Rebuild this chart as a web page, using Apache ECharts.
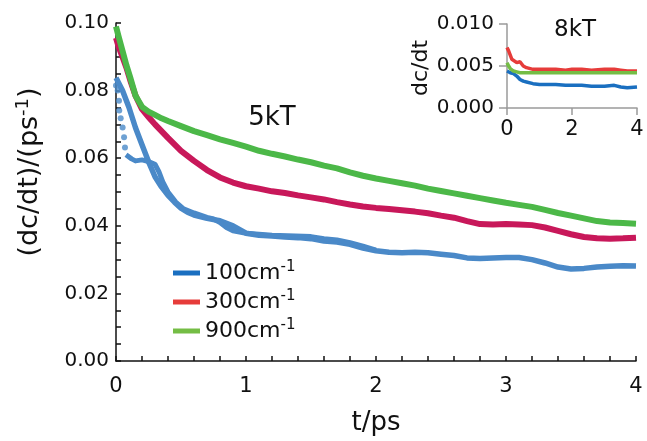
<!DOCTYPE html>
<html>
<head>
<meta charset="utf-8">
<script src="https://cdn.jsdelivr.net/npm/echarts@6/dist/echarts.min.js"></script>
<style>
html,body{margin:0;padding:0;background:#fff;}
#chart{width:647px;height:441px;}
</style>
</head>
<body>
<div id="chart"></div>
<script>
// ---- Main panel (5kT) ----
var tMain = [0,0.02,0.05,0.08,0.11,0.15,0.2,0.25,0.3,0.35,0.4,0.5,0.6,0.7,0.8,0.9,1.0,1.1,1.2,1.3,1.4,1.5,1.6,1.7,1.8,1.9,2.0,2.1,2.2,2.3,2.4,2.5,2.6,2.7,2.8,2.9,3.0,3.1,3.2,3.3,3.4,3.5,3.6,3.7,3.8,3.9,4.0];
var green5 = [0.0990,0.0960,0.0918,0.0875,0.0838,0.0785,0.0752,0.0738,0.0728,0.0718,0.0710,0.0695,0.0680,0.0668,0.0656,0.0645,0.0634,0.0622,0.0613,0.0605,0.0596,0.0588,0.0578,0.0570,0.0558,0.0548,0.0540,0.0533,0.0526,0.0519,0.0510,0.0503,0.0496,0.0489,0.0482,0.0475,0.0468,0.0462,0.0456,0.0447,0.0438,0.0430,0.0422,0.0414,0.0410,0.0408,0.0406];
var red5 = [0.0956,0.0930,0.0900,0.0868,0.0830,0.0785,0.0745,0.0722,0.0700,0.0680,0.0660,0.0622,0.0592,0.0565,0.0543,0.0528,0.0517,0.0510,0.0502,0.0497,0.0490,0.0484,0.0478,0.0470,0.0463,0.0457,0.0453,0.0450,0.0446,0.0442,0.0437,0.0430,0.0424,0.0414,0.0405,0.0404,0.0405,0.0404,0.0402,0.0395,0.0385,0.0375,0.0367,0.0363,0.0362,0.0363,0.0365];
var tBlueA = [0,0.05,0.1,0.15,0.2,0.25,0.3,0.35,0.4,0.45,0.5,0.55,0.6,0.7,0.8,0.9,1.0,1.1,1.2,1.3,1.4,1.5,1.6,1.7,1.8,1.9,2.0,2.1,2.2,2.3,2.4,2.5,2.6,2.7,2.8,2.9,3.0,3.1,3.2,3.3,3.4,3.5,3.6,3.7,3.8,3.9,4.0];
var blue5A = [0.0838,0.0800,0.0750,0.0690,0.0640,0.0590,0.0545,0.0515,0.0490,0.0470,0.0452,0.0440,0.0432,0.0422,0.0415,0.0400,0.0378,0.0372,0.0370,0.0367,0.0365,0.0362,0.0355,0.0352,0.0345,0.0334,0.0326,0.0322,0.0320,0.0322,0.0320,0.0316,0.0312,0.0305,0.0303,0.0305,0.0306,0.0306,0.0300,0.0290,0.0278,0.0272,0.0274,0.0278,0.0280,0.0282,0.0281];
var tBlueB = [0.077,0.12,0.15,0.2,0.25,0.3,0.33,0.36,0.4,0.46,0.52,0.6,0.7,0.75,0.8,0.85,0.9,1.0,1.2,1.5,1.6,1.7,1.8,1.9,2.0];
var blue5B = [0.0610,0.0598,0.0592,0.0595,0.0590,0.0582,0.0560,0.0530,0.0500,0.0470,0.0450,0.0438,0.0425,0.0420,0.0410,0.0395,0.0385,0.0378,0.0372,0.0368,0.0362,0.0358,0.0350,0.0340,0.0328];
var tBlueDots = [0.0,0.013,0.023,0.025,0.036,0.051,0.062,0.069];
var blue5Dots = [0.0815,0.0800,0.0770,0.0741,0.0718,0.0691,0.0662,0.0632];

// ---- Inset panel (8kT) ----
var tInset = [0,0.05,0.1,0.15,0.2,0.3,0.4,0.5,0.6,0.8,1.0,1.2,1.5,1.8,2.0,2.3,2.6,3.0,3.3,3.5,3.7,4.0];
var red8 = [0.0072,0.0068,0.0063,0.0058,0.0056,0.0054,0.0055,0.0050,0.0048,0.0046,0.0046,0.0046,0.0046,0.0045,0.0046,0.0046,0.0045,0.0046,0.0046,0.0045,0.0044,0.0044];
var green8 = [0.0054,0.0050,0.0047,0.0045,0.0044,0.0043,0.0042,0.0042,0.0042,0.0042,0.0042,0.0042,0.0042,0.0042,0.0042,0.0042,0.0042,0.0042,0.0042,0.0042,0.0042,0.0042];
var blue8 = [0.0044,0.0043,0.0042,0.0042,0.0041,0.0038,0.0034,0.0032,0.0031,0.0029,0.0028,0.0028,0.0028,0.0027,0.0027,0.0027,0.0026,0.0026,0.0027,0.0025,0.0024,0.0025];

var legendNames = ['100cm-1','300cm-1','900cm-1'];

function zip(t, v){ return t.map(function(x,i){ return [x, v[i]]; }); }

var FONT = 'DejaVu Sans';
var chart = echarts.init(document.getElementById('chart'), null, {renderer:'canvas'});

var option = {
  backgroundColor: '#ffffff',
  animation: false,
  textStyle: {fontFamily: FONT, color: '#111'},
  grid: [
    {left:116, right:11, top:23, bottom:80},
    {left:507, width:130, top:24, height:84}
  ],
  xAxis: [
    {gridIndex:0, type:'value', min:0, max:4, interval:1,
     name:'t/ps', nameLocation:'middle', nameGap:49,
     nameTextStyle:{fontSize:26, color:'#111', fontFamily:FONT},
     axisLine:{lineStyle:{color:'#111', width:1.5}},
     axisTick:{inside:true, length:5, lineStyle:{color:'#111', width:1.5}},
     minorTick:{show:true, splitNumber:5, length:5, lineStyle:{color:'#111', width:1.5}},
     splitLine:{show:false},
     axisLabel:{fontSize:21, color:'#111', margin:15, fontFamily:FONT}},
    {gridIndex:1, type:'value', min:0, max:4, interval:2,
     axisLine:{lineStyle:{color:'#9a9a9a', width:1.5}},
     axisTick:{inside:false, length:7, lineStyle:{color:'#9a9a9a', width:1.5}},
     splitLine:{show:false},
     axisLabel:{fontSize:21, color:'#111', margin:11, fontFamily:FONT}}
  ],
  yAxis: [
    {gridIndex:0, type:'value', min:0, max:0.1, interval:0.02,
     axisLine:{show:true, lineStyle:{color:'#111', width:1.5}},
     axisTick:{show:true, inside:true, length:5, lineStyle:{color:'#111', width:1.5}},
     minorTick:{show:true, splitNumber:4, length:5, lineStyle:{color:'#111', width:1.5}},
     splitLine:{show:false},
     axisLabel:{fontSize:20, color:'#111', margin:7, fontFamily:FONT,
       formatter:function(v){ return v.toFixed(2); }}},
    {gridIndex:1, type:'value', min:0, max:0.01, interval:0.005,
     axisLine:{show:true, lineStyle:{color:'#9a9a9a', width:1.5}},
     axisTick:{show:true, inside:false, length:8, lineStyle:{color:'#9a9a9a', width:1.5}},
     splitLine:{show:false},
     axisLabel:{fontSize:20, color:'#111', margin:13, fontFamily:FONT,
       formatter:function(v){ return v.toFixed(3); }}}
  ],
  legend: {
    data: legendNames,
    orient:'vertical', left:173, top:260, padding:0,
    icon:'rect', itemWidth:27, itemHeight:5, itemGap:5,
    textStyle:{fontFamily:FONT, color:'#111', fontSize:22,
      rich:{b:{fontSize:22, fontFamily:FONT, color:'#111', lineHeight:26},
            s:{fontSize:15, fontFamily:FONT, color:'#111', verticalAlign:'top', lineHeight:16}}},
    formatter:function(n){ return '{b|' + n.replace('-1','') + '}{s|-1}'; },
    selectedMode:false
  },
  series: [
    {name:'blue5A', type:'line', xAxisIndex:0, yAxisIndex:0, data:zip(tBlueA, blue5A),
     showSymbol:false, lineStyle:{color:'#4a89c8', width:5.5, join:'round'}, itemStyle:{color:'#4a89c8'}},
    {name:'blue5B', type:'line', xAxisIndex:0, yAxisIndex:0, data:zip(tBlueB, blue5B),
     showSymbol:false, lineStyle:{color:'#4a89c8', width:5, join:'round'}, itemStyle:{color:'#4a89c8'}},
    {name:'blue5Dots', type:'scatter', xAxisIndex:0, yAxisIndex:0, data:zip(tBlueDots, blue5Dots),
     symbolSize:6, itemStyle:{color:'#4a89c8'}},
    {name:'red5', type:'line', xAxisIndex:0, yAxisIndex:0, data:zip(tMain, red5),
     showSymbol:false, lineStyle:{color:'#c8185a', width:6, join:'round'}, itemStyle:{color:'#c8185a'}},
    {name:'green5', type:'line', xAxisIndex:0, yAxisIndex:0, data:zip(tMain, green5),
     showSymbol:false, lineStyle:{color:'#4cb848', width:6, join:'round'}, itemStyle:{color:'#4cb848'}},
    {name:'100cm-1', type:'line', xAxisIndex:1, yAxisIndex:1, data:zip(tInset, blue8),
     showSymbol:false, lineStyle:{color:'#1a6fc0', width:3.5}, itemStyle:{color:'#1a6fc0'}},
    {name:'300cm-1', type:'line', xAxisIndex:1, yAxisIndex:1, data:zip(tInset, red8),
     showSymbol:false, lineStyle:{color:'#e63c3a', width:3.5}, itemStyle:{color:'#e63c3a'}},
    {name:'900cm-1', type:'line', xAxisIndex:1, yAxisIndex:1, data:zip(tInset, green8),
     showSymbol:false, lineStyle:{color:'#74bd45', width:3.5}, itemStyle:{color:'#74bd45'}}
  ],
  graphic: [
    {type:'text', x:30, y:172, rotation:Math.PI/2,
     style:{text:'{a|(dc/dt)/(ps}{s|-1}{a|)}', align:'center', verticalAlign:'middle',
       rich:{a:{fontSize:27, fontFamily:FONT, fill:'#111', lineHeight:32},
             s:{fontSize:18, fontFamily:FONT, fill:'#111', verticalAlign:'top', lineHeight:18}}}},
    {type:'text', x:421, y:68, rotation:Math.PI/2,
     style:{text:'dc/dt', align:'center', verticalAlign:'middle', fontSize:22, fontFamily:FONT, fill:'#111'}},
    {type:'text', x:272, y:118,
     style:{text:'5kT', align:'center', verticalAlign:'middle', fontSize:26, fontFamily:FONT, fill:'#111'}},
    {type:'text', x:575, y:30,
     style:{text:'8kT', align:'center', verticalAlign:'middle', fontSize:23, fontFamily:FONT, fill:'#111'}}
  ]
};
chart.setOption(option);
</script>
</body>
</html>
